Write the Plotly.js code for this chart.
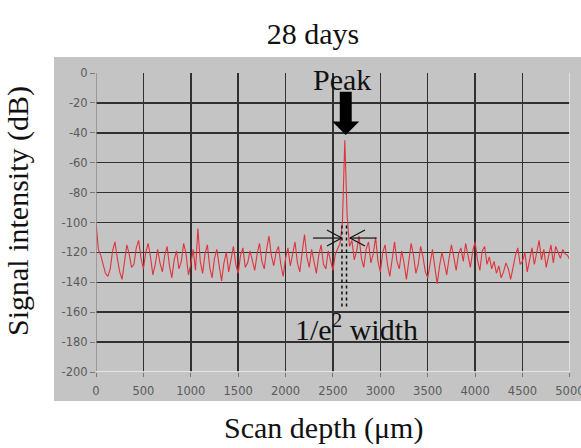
<!DOCTYPE html>
<html>
<head>
<meta charset="utf-8">
<script src="https://cdn.plot.ly/plotly-3.0.1.min.js"></script>
<style>html,body{margin:0;padding:0;background:#fff;}#chart{width:581px;height:448px;}</style>
</head>
<body>
<div id="chart"></div>
<script>
// Scan depth (µm), step 25
const depthStart = 0;
const depthStep = 25;
// Signal intensity (dB)
const signal = [
  -100, -118, -122, -128, -134, -136, -131, -119, -113, -124, -133, -138, -126, -115, -121, -130, -128, -117, -112, -124,
  -131, -120, -114, -123, -135, -128, -118, -127, -133, -122, -116, -129, -137, -125, -119, -131, -126, -114, -121, -135,
  -128, -118, -132, -104, -126, -134, -121, -115, -130, -137, -124, -118, -129, -139, -127, -120, -133, -125, -116, -128,
  -134, -122, -117, -130, -127, -119, -125, -132, -121, -114, -126, -131, -118, -109, -122, -129, -120, -116, -128, -136,
  -124, -117, -129, -121, -113, -127, -133, -120, -108, -123, -130, -118, -125, -134, -122, -115, -128, -131, -119, -126,
  -132, -121, -118, -114, -100, -45, -96, -116, -112, -125, -119, -109, -124, -130, -118, -113, -127, -121, -110, -126,
  -133, -120, -115, -128, -136, -124, -113, -126, -131, -119, -127, -138, -125, -114, -122, -134, -128, -116, -123, -133,
  -137, -126, -118, -130, -141, -129, -120, -127, -135, -124, -115, -123, -132, -121, -117, -126, -114, -122, -130, -119,
  -113, -125, -132, -119, -116, -128, -123, -131, -126, -134, -129, -137, -133, -127, -131, -138, -129, -122, -117, -128,
  -126, -120, -133, -124, -117, -128, -121, -112, -125, -118, -130, -122, -115, -127, -116, -120, -124, -118, -121, -122,
  -125
];
const depth = signal.map((_, i) => depthStart + i * depthStep);

const xTickVals = [0, 500, 1000, 1500, 2000, 2500, 3000, 3500, 4000, 4500, 5000];
const xTickText = ['0', '500', '1000', '1500', '2000', '2500', '3000', '3500', '4000', '4500', '5000'];
const yTickVals = [0, -20, -40, -60, -80, -100, -120, -140, -160, -180, -200];
const yTickText = ['0', '-20', '-40', '-60', '-80', '-100', '-120', '-140', '-160', '-180', '-200'];

const titleText = '28 days';
const xTitle = 'Scan depth (\u03bcm)';
const yTitle = 'Signal intensity (dB)';

const serif = 'Liberation Serif, Times New Roman, serif';
const tickFont = {family: 'DejaVu Sans, sans-serif', size: 11.5, color: '#5a5a5a'};
const panel = '#c4c4c4';
const grid = '#303030';

const trace = {
  x: depth, y: signal, type: 'scatter', mode: 'lines',
  line: {color: '#e0343c', width: 1.1}, hoverinfo: 'x+y', cliponaxis: true
};

const layout = {
  width: 581, height: 448,
  margin: {l: 96, r: 11, t: 73, b: 76, pad: 0},
  paper_bgcolor: '#ffffff',
  plot_bgcolor: panel,
  showlegend: false,
  title: {text: titleText, font: {family: serif, size: 30, color: '#111'},
          xref: 'container', x: 313/581, xanchor: 'center',
          yref: 'container', y: 1 - 33/448, yanchor: 'middle'},
  xaxis: {
    range: [0, 5001], tickvals: xTickVals, ticktext: xTickText,
    showgrid: true, gridcolor: grid, gridwidth: 1.5, zeroline: false,
    showline: false, ticks: 'outside', ticklen: 4, tickcolor: '#777', tickwidth: 1,
    ticklabelstandoff: 4, ticklabeloverflow: 'allow',
    tickfont: tickFont, fixedrange: true
  },
  yaxis: {
    range: [-200, 0], tickvals: yTickVals, ticktext: yTickText,
    showgrid: true, gridcolor: grid, gridwidth: 1.5, zeroline: false,
    showline: false, ticks: 'outside', ticklen: 5, tickcolor: '#777', tickwidth: 1,
    ticklabeloverflow: 'allow',
    tickfont: tickFont, fixedrange: true
  },
  shapes: [
    // gray panel behind the plot
    {type: 'rect', xref: 'paper', yref: 'paper', x0: -0.0886, x1: 1.03, y0: -0.097, y1: 1.0535,
     fillcolor: panel, line: {width: 0}, layer: 'below'},
    // plot frame edges
    {type: 'line', xref: 'x', yref: 'y', x0: 0, x1: 0, y0: -200, y1: 0, line: {color: '#8c8c8c', width: 1.5}},
    {type: 'line', xref: 'x', yref: 'y', x0: 0, x1: 5001, y0: -200, y1: -200, line: {color: '#f2f2f2', width: 1.5}},
    {type: 'line', xref: 'x', yref: 'y', x0: 5000, x1: 5000, y0: -200, y1: 0, line: {color: '#e6e6e6', width: 1.5}},
    // Peak arrow (block arrow)
    {type: 'path', xref: 'x', yref: 'y',
     path: 'M 2572,-12.5 L 2698,-12.5 L 2698,-32.5 L 2777,-32.5 L 2635,-41.5 L 2493,-32.5 L 2572,-32.5 Z',
     fillcolor: '#000', line: {width: 0}},
    // 1/e^2 width arrows
    {type: 'line', x0: 2289, x1: 2592, y0: -110.4, y1: -110.4, line: {color: '#111', width: 1.2}},
    {type: 'line', x0: 2592, x1: 2437, y0: -110.4, y1: -105, line: {color: '#111', width: 1.2}},
    {type: 'line', x0: 2592, x1: 2437, y0: -110.4, y1: -115.7, line: {color: '#111', width: 1.2}},
    {type: 'line', x0: 2961, x1: 2679, y0: -110.4, y1: -110.4, line: {color: '#111', width: 1.2}},
    {type: 'line', x0: 2679, x1: 2838, y0: -110.4, y1: -105, line: {color: '#111', width: 1.2}},
    {type: 'line', x0: 2679, x1: 2838, y0: -110.4, y1: -115.7, line: {color: '#111', width: 1.2}},
    // dashed width markers
    {type: 'line', x0: 2595, x1: 2595, y0: -102, y1: -156.5, line: {color: '#111', width: 1.5, dash: 'dot'}},
    {type: 'line', x0: 2643, x1: 2643, y0: -102, y1: -156.5, line: {color: '#111', width: 1.5, dash: 'dot'}}
  ],
  annotations: [
    {text: xTitle, xref: 'paper', yref: 'paper', x: (323-96)/474, y: (372-428)/299,
     xanchor: 'center', yanchor: 'middle', showarrow: false, font: {family: serif, size: 30, color: '#111'}},
    {text: yTitle, xref: 'paper', yref: 'paper', x: (18-96)/474, y: (372-211)/299, textangle: -90,
     xanchor: 'center', yanchor: 'middle', showarrow: false, font: {family: serif, size: 30, color: '#111'}},
    {text: 'Peak', xref: 'x', yref: 'y', x: 2595, y: -4.5, xanchor: 'center', yanchor: 'middle',
     showarrow: false, font: {family: serif, size: 30, color: '#111'}},
    {text: '1/e<sup>2</sup> width', xref: 'x', yref: 'y', x: 2753, y: -170, xanchor: 'center', yanchor: 'middle',
     showarrow: false, font: {family: serif, size: 30, color: '#111'}}
  ]
};

Plotly.newPlot('chart', [trace], layout, {displayModeBar: false, staticPlot: true});
</script>
</body>
</html>
